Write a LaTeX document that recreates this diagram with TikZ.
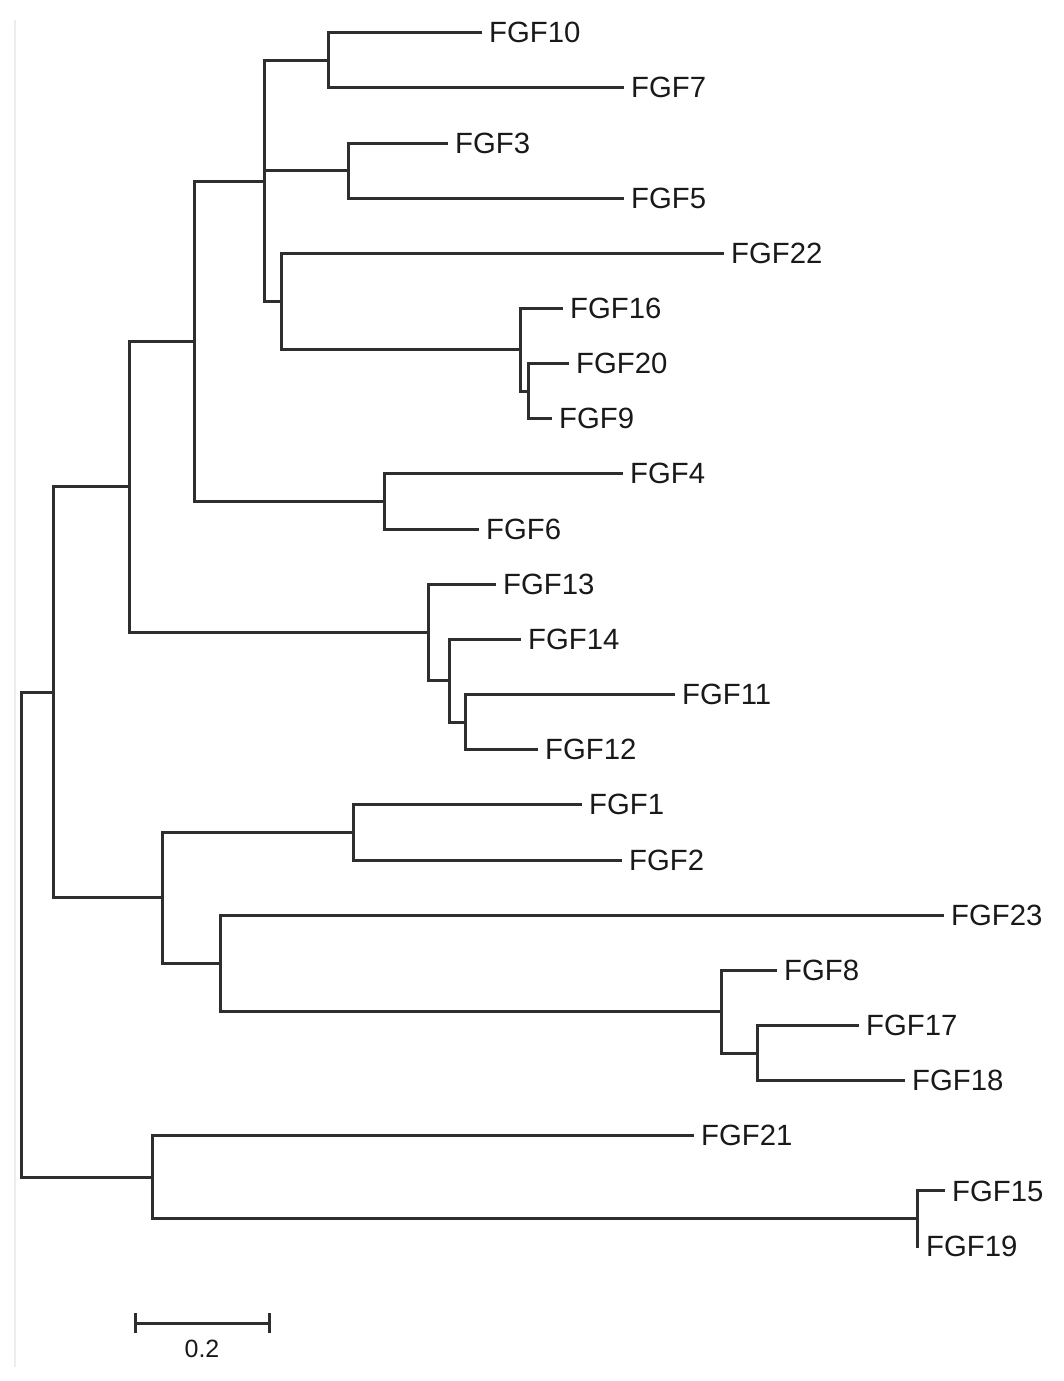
\documentclass[tikz,border=0pt]{standalone}
\usepackage{fontspec}
\setmainfont{Liberation Sans}
\begin{document}
\begin{tikzpicture}[x=1pt,y=-1pt,
  br/.style={line width=3pt,draw=black!82,line cap=rect},
  lab/.style={anchor=west,inner xsep=9pt,inner ysep=0pt,text=black!90,font=\fontsize{29.3}{35}\selectfont},
  sbl/.style={inner sep=0pt,text=black!90,font=\fontsize{25}{30}\selectfont}]
\useasboundingbox (0,0) rectangle (1063,1381);
\draw[line width=2pt,draw=black!7] (15,20) -- (15,1367);
% internal nodes
\coordinate (R) at (21,934.8);
\coordinate (n53) at (53,692.4);
\coordinate (n129) at (129,486.9);
\coordinate (n194) at (194,341.3);
\coordinate (n264) at (264,181);
\coordinate (n328) at (328,60.3);
\coordinate (n348) at (348,170.6);
\coordinate (n281) at (281,301.6);
\coordinate (n520) at (520,349.9);
\coordinate (n528) at (528,391.2);
\coordinate (n384) at (384,501.5);
\coordinate (n428) at (428,632.5);
\coordinate (n449) at (449,680.8);
\coordinate (n465) at (465,722.1);
\coordinate (n162) at (162,897.9);
\coordinate (n353) at (353,832.4);
\coordinate (n220) at (220,963.4);
\coordinate (n721) at (721,1011.7);
\coordinate (n757) at (757,1053);
\coordinate (n152) at (152,1177.1);
\coordinate (n917) at (917,1218.5);
% leaves
\node[lab] (FGF10) at (480,32.7) {FGF10};
\node[lab] (FGF7) at (622,87.9) {FGF7};
\node[lab] (FGF3) at (446,143.0) {FGF3};
\node[lab] (FGF5) at (622,198.2) {FGF5};
\node[lab] (FGF22) at (722,253.3) {FGF22};
\node[lab] (FGF16) at (561,308.5) {FGF16};
\node[lab] (FGF20) at (567,363.6) {FGF20};
\node[lab] (FGF9) at (550,418.8) {FGF9};
\node[lab] (FGF4) at (621,473.9) {FGF4};
\node[lab] (FGF6) at (477,529.1) {FGF6};
\node[lab] (FGF13) at (494,584.2) {FGF13};
\node[lab] (FGF14) at (519,639.4) {FGF14};
\node[lab] (FGF11) at (673,694.5) {FGF11};
\node[lab] (FGF12) at (536,749.7) {FGF12};
\node[lab] (FGF1) at (580,804.8) {FGF1};
\node[lab] (FGF2) at (620,860.0) {FGF2};
\node[lab] (FGF23) at (942,915.1) {FGF23};
\node[lab] (FGF8) at (775,970.3) {FGF8};
\node[lab] (FGF17) at (857,1025.4) {FGF17};
\node[lab] (FGF18) at (903,1080.6) {FGF18};
\node[lab] (FGF21) at (692,1135.7) {FGF21};
\node[lab] (FGF15) at (943,1190.9) {FGF15};
\node[lab] (FGF19) at (917,1246.0) {FGF19};
% branches
\draw[br] (R) |- (n53);
\draw[br] (R) |- (n152);
\draw[br] (n53) |- (n129);
\draw[br] (n53) |- (n162);
\draw[br] (n129) |- (n194);
\draw[br] (n129) |- (n428);
\draw[br] (n194) |- (n264);
\draw[br] (n194) |- (n384);
\draw[br] (n264) |- (n328);
\draw[br] (n264) |- (n348);
\draw[br] (n264) |- (n281);
\draw[br] (n328) |- (FGF10.west);
\draw[br] (n328) |- (FGF7.west);
\draw[br] (n348) |- (FGF3.west);
\draw[br] (n348) |- (FGF5.west);
\draw[br] (n281) |- (FGF22.west);
\draw[br] (n281) |- (n520);
\draw[br] (n520) |- (FGF16.west);
\draw[br] (n520) |- (n528);
\draw[br] (n528) |- (FGF20.west);
\draw[br] (n528) |- (FGF9.west);
\draw[br] (n384) |- (FGF4.west);
\draw[br] (n384) |- (FGF6.west);
\draw[br] (n428) |- (FGF13.west);
\draw[br] (n428) |- (n449);
\draw[br] (n449) |- (FGF14.west);
\draw[br] (n449) |- (n465);
\draw[br] (n465) |- (FGF11.west);
\draw[br] (n465) |- (FGF12.west);
\draw[br] (n162) |- (n353);
\draw[br] (n162) |- (n220);
\draw[br] (n353) |- (FGF1.west);
\draw[br] (n353) |- (FGF2.west);
\draw[br] (n220) |- (FGF23.west);
\draw[br] (n220) |- (n721);
\draw[br] (n721) |- (FGF8.west);
\draw[br] (n721) |- (n757);
\draw[br] (n757) |- (FGF17.west);
\draw[br] (n757) |- (FGF18.west);
\draw[br] (n152) |- (FGF21.west);
\draw[br] (n152) |- (n917);
\draw[br] (n917) |- (FGF15.west);
\draw[br] (n917) -- (FGF19.west);
% scale bar
\coordinate (sbA) at (135,1323);
\coordinate (sbB) at (269,1323);
\draw[br,line cap=butt] (sbA) -- (sbB);
\draw[br,line cap=butt] ([yshift=-10pt]sbA) -- ([yshift=10pt]sbA);
\draw[br,line cap=butt] ([yshift=-10pt]sbB) -- ([yshift=10pt]sbB);
\node[sbl] (sblab) at (202,1349) {0.2};
\end{tikzpicture}
\end{document}
